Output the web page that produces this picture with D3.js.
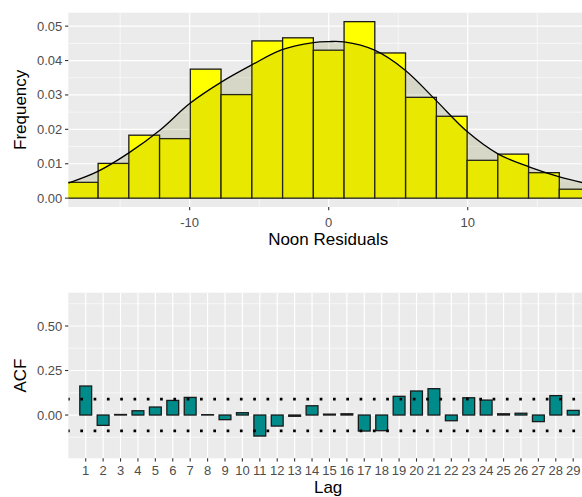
<!DOCTYPE html>
<html>
<head>
<meta charset="utf-8">
<script src="https://cdn.jsdelivr.net/npm/d3@7"></script>
<style>
  body { margin: 0; background: #fff; }
  svg { display: block; font-family: "Liberation Sans", Arial, sans-serif; }
  .tick-lab { fill: #4d4d4d; font-size: 13px; }
  .ax-title { fill: #000; font-size: 17px; }
</style>
</head>
<body>
<div id="chart"></div>
<script>
/* histogram of noon residuals */
var binMids = [-17.69, -15.48, -13.27, -11.06, -8.85, -6.64, -4.42, -2.21, 0,
               2.21, 4.42, 6.64, 8.85, 11.06, 13.27, 15.48, 17.69];
var binWidth = 2.21;
var freq = [0.0046, 0.0101, 0.0183, 0.0173, 0.0375, 0.0301, 0.0457, 0.0466, 0.0430,
            0.0513, 0.0422, 0.0293, 0.0238, 0.0110, 0.0128, 0.0074, 0.0026];

/* density curve */
var densX = [-18.73, -16.6, -14.4, -12.1, -10.0, -7.7, -5.5, -3.4, -1.1, 0, 1.1,
             3.3, 5.5, 7.7, 10.0, 12.2, 14.4, 16.6, 18.7];
var densY = [0.0044, 0.0078, 0.0131, 0.0199, 0.0275, 0.0338, 0.0388, 0.0431, 0.0452, 0.0455, 0.0454,
             0.0430, 0.0372, 0.0285, 0.0192, 0.0128, 0.0091, 0.0062, 0.0041];

var freqTicks  = [0, 0.01, 0.02, 0.03, 0.04, 0.05];
var freqMinor  = [0.005, 0.015, 0.025, 0.035, 0.045];
var residTicks = [-10, 0, 10];
var residMinor = [-15, -5, 5, 15];

/* autocorrelation */
var lags = [1, 2, 3, 4, 5, 6, 7, 8, 9, 10, 11, 12, 13, 14, 15, 16, 17, 18, 19, 20,
            21, 22, 23, 24, 25, 26, 27, 28, 29];
var acf = [0.163, -0.058, 0.003, 0.024, 0.045, 0.082, 0.099, 0.002, -0.026, 0.013,
           -0.118, -0.062, -0.007, 0.052, 0.005, 0.007, -0.090, -0.088, 0.105, 0.135,
           0.148, -0.032, 0.097, 0.084, 0.007, 0.010, -0.037, 0.109, 0.026];
var acfBound = 0.089;
var acfTicks = [0, 0.25, 0.5];
var acfMinor = [-0.125, 0.125, 0.375, 0.625];

var W = 582, H = 497;
var svg = d3.select('#chart').append('svg')
  .attr('width', W).attr('height', H);

var panelL = 68.3, panelR = 588;

function panel(top, bottom, id) {
  svg.append('rect')
    .attr('x', panelL).attr('y', top)
    .attr('width', panelR - panelL).attr('height', bottom - top)
    .attr('fill', '#ebebeb');
  svg.append('clipPath').attr('id', id)
    .append('rect')
    .attr('x', panelL).attr('y', top)
    .attr('width', panelR - panelL).attr('height', bottom - top);
  return svg.append('g').attr('clip-path', 'url(#' + id + ')');
}

function gridH(g, scale, vals, w) {
  g.selectAll(null).data(vals).join('line')
    .attr('x1', panelL).attr('x2', panelR)
    .attr('y1', function (d) { return scale(d); })
    .attr('y2', function (d) { return scale(d); })
    .attr('stroke', '#fff').attr('stroke-width', w);
}
function gridV(g, scale, vals, w, top, bottom) {
  g.selectAll(null).data(vals).join('line')
    .attr('y1', top).attr('y2', bottom)
    .attr('x1', function (d) { return scale(d); })
    .attr('x2', function (d) { return scale(d); })
    .attr('stroke', '#fff').attr('stroke-width', w);
}

function yAxis(scale, vals, fmt) {
  var g = svg.append('g');
  g.selectAll(null).data(vals).join('line')
    .attr('x1', panelL - 3.3).attr('x2', panelL)
    .attr('y1', function (d) { return scale(d); })
    .attr('y2', function (d) { return scale(d); })
    .attr('stroke', '#333').attr('stroke-width', 1.1);
  g.selectAll(null).data(vals).join('text')
    .attr('class', 'tick-lab')
    .attr('x', panelL - 6)
    .attr('y', function (d) { return scale(d); })
    .attr('dy', '0.35em')
    .attr('text-anchor', 'end')
    .text(fmt);
}
function xAxis(scale, vals, y, labY, fmt) {
  var g = svg.append('g');
  g.selectAll(null).data(vals).join('line')
    .attr('y1', y).attr('y2', y + 3.3)
    .attr('x1', function (d) { return scale(d); })
    .attr('x2', function (d) { return scale(d); })
    .attr('stroke', '#333').attr('stroke-width', 1.1);
  g.selectAll(null).data(vals).join('text')
    .attr('class', 'tick-lab')
    .attr('x', function (d) { return scale(d); })
    .attr('y', labY)
    .attr('text-anchor', 'middle')
    .text(fmt);
}

/* ── top: histogram ── */
var hTop = 12.7, hBot = 207;
var x1 = d3.scaleLinear().domain([-18.73, 18.65]).range([panelL, panelR]);
var y1 = d3.scaleLinear().domain([-0.00257, 0.0539]).range([hBot, hTop]);

var g1 = panel(hTop, hBot, 'clip1');
gridH(g1, y1, freqMinor, 0.6);
gridV(g1, x1, residMinor, 0.6, hTop, hBot);
gridH(g1, y1, freqTicks, 1.2);
gridV(g1, x1, residTicks, 1.2, hTop, hBot);

g1.selectAll('rect.bin').data(binMids).join('rect')
  .attr('class', 'bin')
  .attr('x', function (d) { return x1(d - binWidth / 2); })
  .attr('width', function (d) { return x1(d + binWidth / 2) - x1(d - binWidth / 2); })
  .attr('y', function (d, i) { return y1(freq[i]); })
  .attr('height', function (d, i) { return y1(0) - y1(freq[i]); })
  .attr('fill', '#ffff00')
  .attr('stroke', '#1a1a1a').attr('stroke-width', 1.3);

var dens = densX.map(function (d, i) { return [d, densY[i]]; });
g1.append('path')
  .datum(dens)
  .attr('d', d3.area()
    .x(function (d) { return x1(d[0]); })
    .y0(y1(0))
    .y1(function (d) { return y1(d[1]); })
    .curve(d3.curveCatmullRom))
  .attr('fill', 'rgb(100,100,0)')
  .attr('fill-opacity', 0.15);
g1.append('path')
  .datum(dens)
  .attr('d', d3.line()
    .x(function (d) { return x1(d[0]); })
    .y(function (d) { return y1(d[1]); })
    .curve(d3.curveCatmullRom))
  .attr('fill', 'none')
  .attr('stroke', '#000').attr('stroke-width', 1.3);

yAxis(y1, freqTicks, d3.format('.2f'));
xAxis(x1, residTicks, hBot, 227, function (d) { return d; });

svg.append('text').attr('class', 'ax-title')
  .attr('x', (panelL + panelR) / 2).attr('y', 245)
  .attr('text-anchor', 'middle')
  .text('Noon Residuals');
svg.append('text').attr('class', 'ax-title')
  .attr('transform', 'translate(26,' + ((hTop + hBot) / 2) + ') rotate(-90)')
  .attr('text-anchor', 'middle')
  .text('Frequency');

/* ── bottom: ACF ── */
var aTop = 292.7, aBot = 458.3;
var x2 = d3.scaleLinear().domain([0, 29.85]).range([panelL, panelR]);
var y2 = d3.scaleLinear().domain([-0.243, 0.687]).range([aBot, aTop]);

var g2 = panel(aTop, aBot, 'clip2');
gridH(g2, y2, acfMinor, 0.6);
gridH(g2, y2, acfTicks, 1.2);
gridV(g2, x2, lags, 1.2, aTop, aBot);

var barW = 0.68;
g2.selectAll('rect.acf').data(lags).join('rect')
  .attr('class', 'acf')
  .attr('x', function (d) { return x2(d - barW / 2); })
  .attr('width', function (d) { return x2(d + barW / 2) - x2(d - barW / 2); })
  .attr('y', function (d, i) { return y2(Math.max(0, acf[i])); })
  .attr('height', function (d, i) { return Math.abs(y2(0) - y2(acf[i])); })
  .attr('fill', '#008b8b')
  .attr('stroke', '#1a1a1a').attr('stroke-width', 1.3);

g2.selectAll('line.bound').data([acfBound, -acfBound]).join('line')
  .attr('class', 'bound')
  .attr('x1', panelL).attr('x2', panelR)
  .attr('y1', function (d) { return y2(d); })
  .attr('y2', function (d) { return y2(d); })
  .attr('stroke', '#000').attr('stroke-width', 2.7)
  .attr('stroke-dasharray', '2.7 10.6')
  .attr('stroke-dashoffset', -12);

yAxis(y2, acfTicks, d3.format('.2f'));
xAxis(x2, lags, aBot, 474.5, function (d) { return d; });

svg.append('text').attr('class', 'ax-title')
  .attr('x', (panelL + panelR) / 2).attr('y', 493)
  .attr('text-anchor', 'middle')
  .text('Lag');
svg.append('text').attr('class', 'ax-title')
  .attr('transform', 'translate(26,' + ((aTop + aBot) / 2) + ') rotate(-90)')
  .attr('text-anchor', 'middle')
  .text('ACF');
</script>
</body>
</html>
